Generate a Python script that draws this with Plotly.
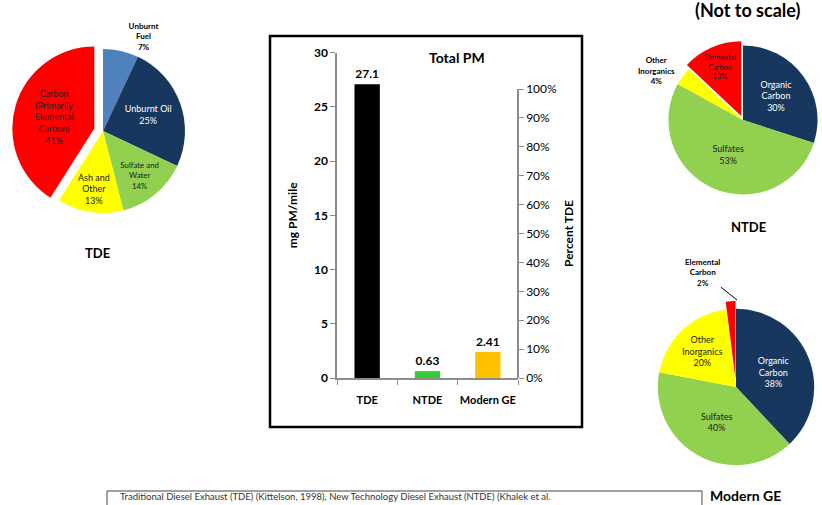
import plotly.graph_objects as go

W, H = 822, 505

# ---- data -------------------------------------------------------------
bar_categories = ["TDE", "NTDE", "Modern GE"]
bar_values = [27.1, 0.63, 2.41]
bar_colors = ["#000000", "#33CC33", "#FFC000"]

tde_labels = ["Unburnt<br>Fuel", "Unburnt Oil", "Sulfate and<br>Water",
              "Ash and<br>Other", "Carbon<br>(Primarily<br>Elemental<br>Carbon)"]
tde_values = [7, 25, 14, 13, 41]
tde_colors = ["#4F81BD", "#17375E", "#92D050", "#FFFF00", "#FF0000"]

ntde_labels = ["Organic<br>Carbon", "Sulfates", "Other<br>Inorganics", "Elemental<br>Carbon"]
ntde_values = [30, 53, 4, 13]
ntde_colors = ["#17375E", "#92D050", "#FFFF00", "#FF0000"]

ge_labels = ["Organic<br>Carbon", "Sulfates", "Other<br>Inorganics", "Elemental<br>Carbon"]
ge_values = [38, 40, 20, 2]
ge_colors = ["#17375E", "#92D050", "#FFFF00", "#FF0000"]

pct_ticks = [0, 10, 20, 30, 40, 50, 60, 70, 80, 90, 100]

FONT = "Lato"


def px_x(x):
    return x / W


def px_y(y):
    return 1 - y / H


def pie_domain(cx, cy, half):
    return dict(x=[px_x(cx - half), px_x(cx + half)],
                y=[px_y(cy + half), px_y(cy - half)])


def slice_text(labels, values, hide):
    return ["" if i in hide else f"{l}<br>{v}%" for i, (l, v) in enumerate(zip(labels, values))]


fig = go.Figure()

# ---- central bar chart --------------------------------------------------
fig.add_trace(go.Bar(
    x=bar_categories, y=bar_values,
    marker=dict(color=bar_colors, line=dict(width=0)),
    width=0.42,
    text=[f"{v}" for v in bar_values], textposition="outside",
    textfont=dict(family=FONT, size=12, color="black", weight="bold"),
    cliponaxis=False, showlegend=False, hoverinfo="skip",
))
# carrier trace so the percent axis is drawn
fig.add_trace(go.Scatter(
    x=[bar_categories[0]], y=[0], yaxis="y2", mode="markers",
    marker=dict(opacity=0), showlegend=False, hoverinfo="skip",
))

# ---- pies -----------------------------------------------------------------
fig.add_trace(go.Pie(
    labels=tde_labels, values=tde_values, sort=False, direction="clockwise",
    rotation=0, pull=[0, 0, 0, 0, 0.11],
    marker=dict(colors=tde_colors, line=dict(width=0)),
    text=[f"<b>{tde_labels[0]}<br>{tde_values[0]}%</b>"] + slice_text(tde_labels, tde_values, [0])[1:],
    textinfo="text", textposition=["outside", "inside", "inside", "inside", "inside"],
    insidetextorientation="horizontal",
    insidetextfont=dict(family=FONT, size=9, color=["black", "white", "#222", "#222", "#222"]),
    outsidetextfont=dict(family=FONT, size=8, color="black"),
    domain=pie_domain(103, 131, 91), showlegend=False, hoverinfo="skip",
))

fig.add_trace(go.Pie(
    labels=ntde_labels, values=ntde_values, sort=False, direction="clockwise",
    rotation=0, pull=[0, 0, 0, 0.06],
    marker=dict(colors=ntde_colors, line=dict(width=0)),
    text=slice_text(ntde_labels, ntde_values, [2])[:2]
    + [f"<b>{ntde_labels[2]}<br>{ntde_values[2]}%</b>"]
    + slice_text(ntde_labels, ntde_values, [2])[3:],
    textinfo="text", textposition=["inside", "inside", "outside", "inside"],
    insidetextorientation="horizontal",
    insidetextfont=dict(family=FONT, size=9, color=["white", "#222", "#222", "#222"]),
    outsidetextfont=dict(family=FONT, size=8, color="black"),
    domain=pie_domain(743, 120, 79), showlegend=False, hoverinfo="skip",
))

fig.add_trace(go.Pie(
    labels=ge_labels, values=ge_values, sort=False, direction="clockwise",
    rotation=0, pull=[0, 0, 0, 0.1],
    marker=dict(colors=ge_colors, line=dict(width=0)),
    text=slice_text(ge_labels, ge_values, [3]),
    textinfo="text", textposition="inside",
    insidetextorientation="horizontal",
    insidetextfont=dict(family=FONT, size=9, color=["white", "#222", "#222", "#222"]),
    domain=pie_domain(736, 387, 86), showlegend=False, hoverinfo="skip",
))

# ---- axes -----------------------------------------------------------------
axis_grey = "#8C8C8C"
fig.update_layout(
    width=W, height=H,
    margin=dict(l=0, r=0, t=0, b=0, autoexpand=False),
    paper_bgcolor="white", plot_bgcolor="rgba(0,0,0,0)",
    font=dict(family=FONT, color="black"),
    xaxis=dict(
        domain=[px_x(337), px_x(518)], anchor="y", automargin=False,
        showline=True, linecolor=axis_grey, linewidth=1.5,
        ticks="outside", tickson="boundaries", ticklen=5, tickcolor=axis_grey,
        tickfont=dict(family=FONT, size=11, color="black", weight="bold"),
        tickangle=0, ticklabelstandoff=11, showgrid=False, fixedrange=True,
    ),
    yaxis=dict(
        domain=[px_y(378), px_y(52.7)], anchor="x", automargin=False,
        range=[0, 30], dtick=5, showline=True, linecolor=axis_grey, linewidth=1.5,
        ticks="outside", ticklen=5, tickcolor=axis_grey,
        tickfont=dict(family=FONT, size=12, color="black", weight="bold"),
        showgrid=False, zeroline=False,
        title=dict(text="mg PM/mile", standoff=14,
                   font=dict(family=FONT, size=12, color="black", weight="bold")),
    ),
    yaxis2=dict(
        domain=[px_y(378), px_y(89)], anchor="free", position=px_x(518), side="right",
        automargin=False,
        range=[0, 100], tickvals=pct_ticks, ticktext=[f"{v}%" for v in pct_ticks],
        showline=True, linecolor=axis_grey, linewidth=1.5,
        ticks="outside", ticklen=5, tickcolor=axis_grey,
        tickfont=dict(family=FONT, size=12, color="black"),
        showgrid=False, zeroline=False,
        title=dict(text="Percent TDE", standoff=8,
                   font=dict(family=FONT, size=12, color="black", weight="bold")),
    ),
)

# ---- frames and captions ---------------------------------------------------
fig.add_shape(type="rect", xref="paper", yref="paper",
              x0=px_x(270), x1=px_x(582), y0=px_y(427), y1=px_y(36),
              line=dict(color="black", width=2.5), fillcolor="rgba(0,0,0,0)", layer="below")
fig.add_shape(type="rect", xref="paper", yref="paper",
              x0=px_x(107), x1=px_x(702), y0=px_y(520), y1=px_y(491),
              line=dict(color="#444", width=1), fillcolor="white")


def caption(text, x, y, size, bold=True, xanchor="center", yanchor="middle", color="black"):
    fig.add_annotation(text=f"<b>{text}</b>" if bold else text, x=px_x(x), y=px_y(y),
                       xref="paper", yref="paper", showarrow=False,
                       xanchor=xanchor, yanchor=yanchor,
                       font=dict(family=FONT, size=size, color=color))


caption("Total PM", 457, 58, 14)
caption("TDE", 97, 253, 13)
caption("NTDE", 748, 227, 13)
caption("Modern GE", 745, 495, 14)
caption("(Not to scale)", 748, 10, 18)
caption("Traditional Diesel Exhaust (TDE) (Kittelson, 1998), New Technology Diesel Exhaust (NTDE) (Khalek et al.",
        118, 504, 9.5, bold=False, xanchor="left", yanchor="bottom", color="#333")

# leader label for the thin elemental-carbon slice of the Modern GE pie
fig.add_annotation(
    text=f"<b>{ge_labels[3]}<br>{ge_values[3]}%</b>",
    x=px_x(737), y=px_y(300), ax=-35, ay=-28,
    xref="paper", yref="paper", axref="pixel", ayref="pixel",
    showarrow=True, arrowhead=0, arrowwidth=1, arrowcolor="black",
    font=dict(family=FONT, size=8, color="black"),
)

fig.write_html("out.html")
